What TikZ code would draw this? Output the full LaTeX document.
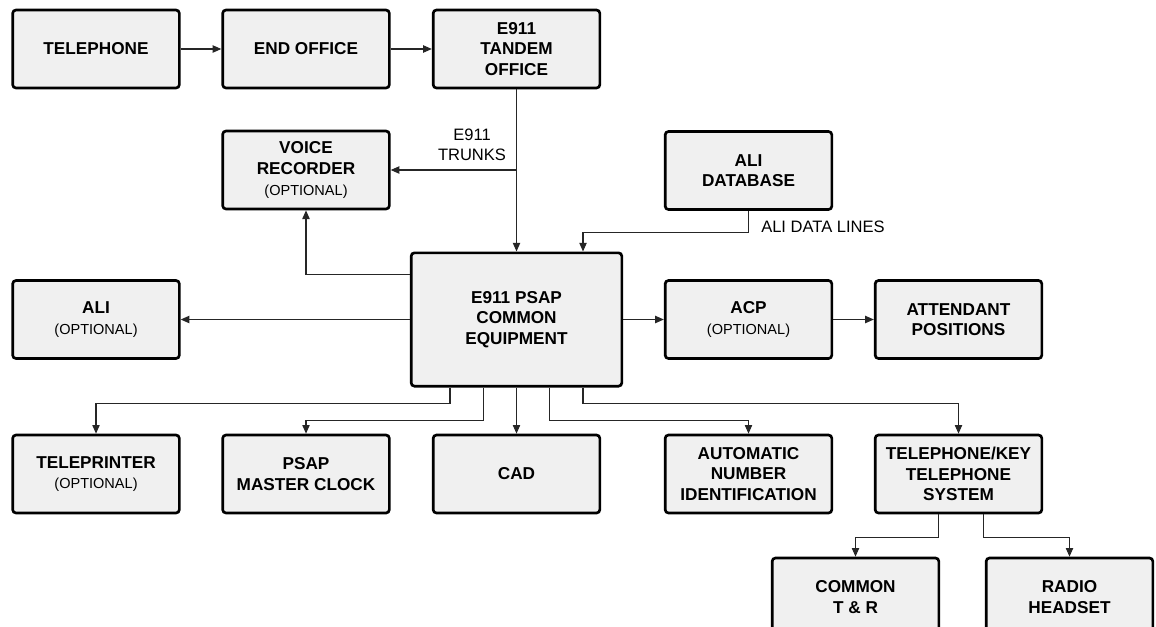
\documentclass[tikz,border=0pt]{standalone}
\usepackage{fontspec}
\setmainfont{Liberation Sans}
\usetikzlibrary{arrows.meta,calc}
\definecolor{BoxFill}{HTML}{F0F0F0}
\definecolor{Wire}{HTML}{262626}
\newcommand{\optnote}{{\fontsize{10.9pt}{15pt}\selectfont\mdseries (OPTIONAL)}}

\begin{document}
\begin{tikzpicture}[x=.75pt,y=-.75pt,
    blk/.style={draw=black,line width=2pt,rounded corners=2.5pt,fill=BoxFill,minimum width=125pt,minimum height=58.5pt,inner sep=0pt,align=center,font=\fontsize{12.9pt}{15.5pt}\selectfont\bfseries},
    wire/.style={draw=Wire,line width=.8pt,-{Triangle[length=6.5pt,width=5.5pt]}},
    tag/.style={inner sep=0pt,align=center,font=\fontsize{12.4pt}{15pt}\selectfont}]
  \useasboundingbox(0,0)rectangle(1156,626);
  \clip(0,0)rectangle(1156,626);
  \node[blk](phone)at(96,49){TELEPHONE};
  \node[blk](endoff)at(306,49){END OFFICE};
  \node[blk](tandem)at(516.5,49){E911\\TANDEM\\OFFICE};
  \node[blk](voice)at(306,170){VOICE\\RECORDER\\\optnote};
  \node[blk](alidb)at(748.5,170.5){ALI\\DATABASE};
  \node[blk,minimum width=158pt,minimum height=100pt](psap)at(516.5,319.5){E911 PSAP\\COMMON\\EQUIPMENT};
  \node[blk](ali)at(96,319.5){ALI\\\optnote};
  \node[blk](acp)at(748.5,319.5){ACP\\\optnote};
  \node[blk](attend)at(958.5,319.5){ATTENDANT\\POSITIONS};
  \node[blk](tprint)at(96,474){TELEPRINTER\\\optnote};
  \node[blk](clock)at(306,474){PSAP\\MASTER CLOCK};
  \node[blk](cad)at(516.5,474){CAD};
  \node[blk](ani)at(748.5,474){AUTOMATIC\\NUMBER\\IDENTIFICATION};
  \node[blk](keysys)at(958.5,474){TELEPHONE/KEY\\TELEPHONE\\SYSTEM};
  \node[blk](common)at(855.5,597){COMMON\\T \& R};
  \node[blk](radio)at(1069.5,597){RADIO\\HEADSET};
  \node[tag](trunks)at(472,145){E911\\TRUNKS};
  \node[tag,anchor=west](alilines)at(761,227){ALI DATA LINES};
  \draw[wire](phone)--(endoff);
  \draw[wire](endoff)--(tandem);
  \draw[wire](tandem)--(psap);
  \draw[wire](tandem.south|-voice.east)--(voice.east);
  \draw[wire]($(psap.north west)+(0,23)$)-|(voice.south);
  \draw[wire](alidb.south)--++(0,22)-|($(psap.north)+(66.5,0)$);
  \draw[wire](psap)--(ali);
  \draw[wire](psap)--(acp);
  \draw[wire](acp)--(attend);
  \draw[wire]($(psap.south)+(-66.5,0)$)--++(0,16)-|(tprint.north);
  \draw[wire]($(psap.south)+(-33,0)$)--++(0,33)-|(clock.north);
  \draw[wire](psap)--(cad);
  \draw[wire]($(psap.south)+(33,0)$)--++(0,33)-|(ani.north);
  \draw[wire]($(psap.south)+(66.5,0)$)--++(0,16)-|(keysys.north);
  \draw[wire]($(keysys.south)+(-20,0)$)--++(0,23)-|(common.north);
  \draw[wire]($(keysys.south)+(25,0)$)--++(0,23)-|(radio.north);
\end{tikzpicture}
\end{document}
